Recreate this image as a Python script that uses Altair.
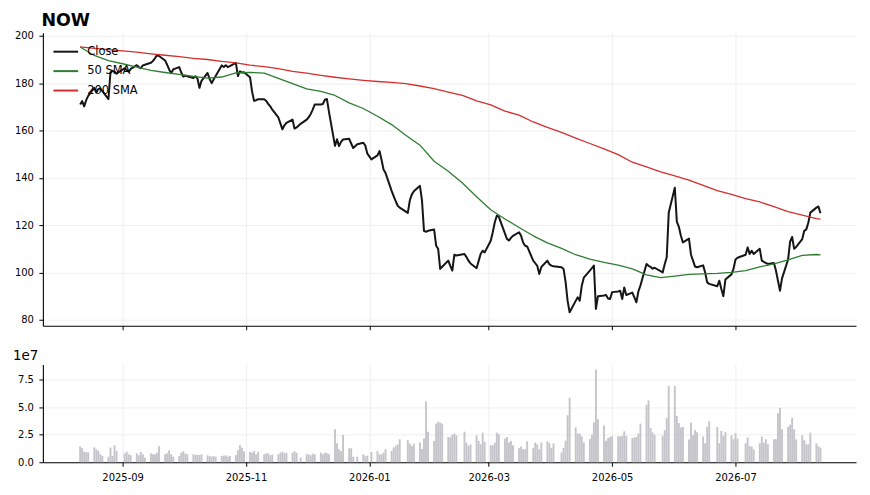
import altair as alt
import pandas as pd

# NYSE holidays inside the window (no bar / no close on these weekdays)
holidays = ["2025-09-01", "2025-11-27", "2025-12-25", "2026-01-01", "2026-01-19",
            "2026-02-16", "2026-04-03", "2026-05-25", "2026-06-19", "2026-07-03"]

# daily close, one row per week
close = [
    171.0, 172.4, 170.2, 172.8, 174.6,
    178.0, 176.0, 177.5, 177.8, 176.6,
    173.3, 184.5, 185.2, 184.8, 184.0,
    186.3, 185.5, 184.8, 186.0,
    187.6, 186.8, 186.3, 187.5, 187.8,
    188.6, 189.4, 190.5, 191.9, 191.5,
    189.6, 187.8, 185.8, 184.2, 185.8,
    186.8, 184.5, 182.8, 183.2, 182.9,
    182.2, 182.9, 182.0, 178.0, 181.0,
    184.3, 181.8, 180.0, 181.5, 183.0,
    187.5, 186.8, 187.6, 186.8, 187.2,
    188.6, 183.0, 185.0, 184.5, 184.6,
    182.5, 176.5, 172.5, 172.8, 173.2,
    173.2, 172.5, 171.2, 170.2, 168.8,
    165.5, 163.0, 160.5, 162.2, 163.2,
    164.6, 160.8, 161.3, 162.8,
    164.6, 165.6, 167.0, 168.8, 171.0,
    171.0, 171.2, 173.0, 173.3, 168.0,
    153.5, 156.3, 153.4, 155.2, 156.2,
    156.5, 154.5, 152.6, 154.2,
    154.8, 153.6, 150.2, 147.8,
    149.5, 151.3, 147.6, 143.5, 142.0,
    134.5, 132.3, 130.2, 128.2, 127.4,
    125.2, 130.5, 133.0, 134.3,
    136.6, 130.5, 117.6, 117.2, 117.6,
    118.2, 111.3, 110.0, 101.5, 102.4,
    105.0, 102.8, 100.8, 107.5, 107.2,
    107.8, 106.5, 105.0, 103.8,
    101.8, 104.8, 107.8, 109.2, 108.5,
    113.4, 117.0, 121.2, 124.0, 123.5,
    116.5, 114.2, 113.5, 114.6, 115.5,
    117.0, 115.5, 112.7, 111.3, 111.0,
    105.0, 103.9, 102.8, 99.4, 102.3,
    105.0, 103.5, 102.9, 102.6,
    102.2, 101.5, 96.0, 88.0, 83.2,
    88.0, 89.5, 88.1, 94.4, 97.8,
    100.8, 101.8, 102.9, 84.6, 90.0,
    90.3, 90.5, 89.0, 88.8, 91.7,
    92.0, 92.3, 88.8, 93.7, 90.5,
    91.5, 89.5, 87.4, 92.0, 94.5,
    103.6, 102.8, 102.4, 101.6, 102.0,
    100.0, 103.5, 106.4, 125.3,
    135.8, 121.5, 119.3, 115.5, 112.7,
    114.3, 107.5, 105.0, 102.5, 102.2,
    103.0, 100.0, 95.8, 95.2,
    94.2, 96.5, 93.0, 90.0, 97.0,
    99.2, 101.5, 105.5, 106.2,
    107.5, 110.6, 107.8, 109.2, 107.8,
    110.0, 105.0, 104.5, 104.0, 103.6,
    104.0, 100.8, 96.5, 92.3, 97.5,
    105.5, 113.0, 115.0, 110.0, 110.8,
    114.1, 117.6, 118.2, 121.0, 125.3,
    127.4, 127.9, 125.0,
]

# daily volume in units of 1e7 shares
volume_1e7 = [
    1.45, 1.28, 0.95, 0.93, 0.90,
    1.35, 1.18, 1.02, 0.72, 0.57,
    0.50, 1.33, 0.57, 1.54, 1.02,
    0.80, 0.95, 0.72, 0.65,
    0.81, 0.63, 0.93, 0.72, 0.42,
    0.80, 0.72, 0.72, 0.87, 1.45,
    0.72, 0.81, 1.08, 0.72, 0.50,
    0.57, 0.87, 1.00, 0.78, 0.72,
    0.72, 0.66, 0.66, 0.66, 0.72,
    0.63, 0.57, 0.50, 0.57, 0.50,
    0.57, 0.60, 0.63, 0.50, 0.57,
    0.65, 1.10, 1.55, 1.32, 1.00,
    0.93, 0.87, 1.02, 0.72, 0.95,
    0.72, 0.81, 0.81, 0.63, 0.70,
    0.72, 0.87, 0.96, 0.81, 0.87,
    0.87, 1.00, 0.85, 0.42,
    0.72, 0.72, 0.63, 0.78, 0.72,
    0.87, 0.72, 0.87, 0.81, 0.72,
    2.98, 1.72, 1.17, 1.00, 2.47,
    1.25, 1.27, 0.50, 0.50,
    0.72, 0.55, 0.60, 0.93,
    1.00, 0.72, 0.72, 0.87, 1.17,
    1.02, 1.33, 1.48, 1.60, 2.08,
    2.00, 1.69, 1.48, 1.69,
    1.78, 1.20, 2.15, 5.50, 2.77,
    1.93, 3.50, 3.67, 3.58, 3.50,
    2.30, 2.25, 2.50, 2.60, 2.45,
    2.77, 1.78, 1.48, 1.63,
    2.44, 1.93, 1.63, 2.68, 1.84,
    1.54, 1.54, 1.78, 2.68, 2.53,
    2.14, 2.29, 1.78, 1.93, 1.54,
    1.27, 1.42, 1.17, 1.17, 1.90,
    1.27, 1.78, 1.63, 1.17, 1.78,
    1.90, 1.74, 1.30, 1.70,
    0.90, 1.30, 1.95, 4.26, 5.85,
    3.15, 2.60, 2.60, 2.35, 1.80,
    2.10, 2.50, 3.60, 8.40, 3.90,
    3.33, 1.95, 2.20, 2.30, 2.35,
    2.35, 2.35, 2.40, 2.80, 2.40,
    2.20, 2.25, 2.30, 2.60, 3.50,
    5.20, 5.60, 3.10, 2.70, 2.50,
    2.40, 2.90, 4.00, 6.90,
    6.90, 4.20, 3.55, 3.15, 3.20,
    2.05, 3.60, 2.45, 2.90, 2.70,
    2.32, 1.72, 3.20, 3.70,
    3.20, 1.72, 2.83, 2.38, 2.74,
    2.44, 2.08, 2.62, 2.14,
    1.72, 2.23, 1.48, 1.42, 1.17,
    1.72, 2.32, 1.78, 2.08, 1.63,
    2.08, 2.08, 4.43, 4.94, 2.98,
    3.20, 3.40, 4.03, 2.98, 2.08,
    2.44, 2.00, 1.63, 1.63, 2.68,
    1.72, 1.45, 1.33,
]

sma50 = [195.3, 191.7, 189.5, 188.2, 186.8, 185.4, 184.5, 183.7, 182.9, 182.1,
         182.6, 184.3, 184.6, 184.2, 182.0, 179.8, 177.6, 176.5, 174.8, 171.7,
         169.3, 166.0, 162.5, 158.0, 153.8, 147.0, 142.8, 137.8, 132.0, 126.5,
         122.6, 119.0, 115.5, 112.5, 110.2, 107.5, 105.6, 104.3, 103.1, 101.5,
         99.0, 97.8, 98.5, 99.2, 99.4, 99.6, 100.0, 100.8, 102.4, 103.6,
         105.3, 107.2, 107.6, 107.4]
sma200 = [195.3, 194.7, 194.2, 193.6, 193.1, 192.4, 191.8, 191.2, 190.5, 190.0,
          189.2, 188.6, 187.6, 187.0, 186.1, 185.0, 184.2, 183.3, 182.5, 181.8,
          181.2, 180.7, 180.3, 179.8, 178.8, 177.7, 176.2, 174.8, 172.5, 170.8,
          168.2, 166.5, 163.6, 161.3, 159.2, 156.8, 154.5, 152.2, 149.8, 146.6,
          144.6, 142.5, 140.8, 139.0, 136.8, 134.6, 133.0, 131.2, 129.8, 127.8,
          125.7, 124.2, 122.8, 122.5]

series_names = ["Close", "50 SMA", "200 SMA"]
series_colors = ["#151515", "#2e7d32", "#d32f2f"]

days = pd.bdate_range("2025-08-11", "2026-08-12")
days = days[~days.isin(pd.to_datetime(holidays))]
day_str = days.strftime("%Y-%m-%d")
mondays = pd.date_range("2025-08-11", "2026-08-10", freq="W-MON").strftime("%Y-%m-%d")
week_str = list(mondays) + [day_str[-1]]

price_df = pd.DataFrame({"date": day_str, "value": close, "series": "Close"})
vol_df = pd.DataFrame({"date": day_str, "volume": volume_1e7})
sma_df = pd.concat([
    pd.DataFrame({"date": week_str, "value": sma50, "series": "50 SMA"}),
    pd.DataFrame({"date": week_str, "value": sma200, "series": "200 SMA"}),
])

x_domain = [alt.DateTime(year=2025, month=7, date=23, hours=14, utc=True),
            alt.DateTime(year=2026, month=8, date=29, hours=14, utc=True)]
x_ticks = [alt.DateTime(year=y, month=m, date=1, utc=True)
           for y, m in [(2025, 9), (2025, 11), (2026, 1), (2026, 3), (2026, 5), (2026, 7)]]
x_scale = alt.Scale(type="utc", domain=x_domain, padding=0)

color = alt.Color(
    "series:N",
    scale=alt.Scale(domain=series_names, range=series_colors),
    legend=alt.Legend(
        title=None, orient="none", legendX=14, legendY=10,
        symbolType="M-1.6,0H1.6", symbolSize=240, symbolStrokeWidth=2,
        labelFontSize=11.5, labelOffset=12.5, rowPadding=4.5, padding=0,
    ),
)

y_price = alt.Y("value:Q", scale=alt.Scale(domain=[77.5, 201.3], nice=False, zero=False),
                axis=alt.Axis(values=[80, 100, 120, 140, 160, 180, 200], title=None,
                              minExtent=30, maxExtent=30))
x_top = alt.X("date:T", scale=x_scale,
              axis=alt.Axis(values=x_ticks, labels=False, title=None))

close_line = alt.Chart(price_df).mark_line(strokeWidth=2, strokeJoin="round").encode(
    x=x_top, y=y_price, color=color)
sma_lines = alt.Chart(sma_df).mark_line(strokeWidth=1.3, strokeJoin="round").encode(
    x=x_top, y=y_price, color=color)

top = alt.layer(close_line, sma_lines).properties(width=816, height=294)

bars = alt.Chart(vol_df).mark_bar(color="#c4c4ca", width=1.9).encode(
    x=alt.X("date:T", scale=x_scale,
            axis=alt.Axis(values=x_ticks, labelExpr="utcFormat(datum.value, '%Y-%m')",
                          title=None, labelPadding=6)),
    y=alt.Y("volume:Q", scale=alt.Scale(domain=[0, 8.85], nice=False),
            axis=alt.Axis(values=[0, 2.5, 5, 7.5], format=".1f", title=None,
                          minExtent=30, maxExtent=30)),
).properties(
    width=816, height=98,
    title=alt.TitleParams("1e7", anchor="start", fontSize=13.5, fontWeight="normal", offset=2),
)

chart = alt.vconcat(top, bars, spacing=18).properties(
    title=alt.TitleParams("NOW", anchor="start", fontSize=17.5, fontWeight="bold", offset=1, dx=29),
    padding={"left": 4, "top": 3, "right": 5, "bottom": 2},
).configure_view(
    stroke="transparent"
).configure_axis(
    labelFont="DejaVu Sans", labelFontSize=10, labelColor="black",
    tickColor="black", tickSize=4, tickWidth=1,
    domainColor="black", domainWidth=1.1,
    gridColor="#ebebeb", gridWidth=0.8, labelPadding=5.5,
).configure_title(
    font="DejaVu Sans", color="black"
).configure_legend(
    labelFont="DejaVu Sans", labelColor="black"
)

chart.save("out.html", embed_options={"renderer": "svg", "actions": False})
